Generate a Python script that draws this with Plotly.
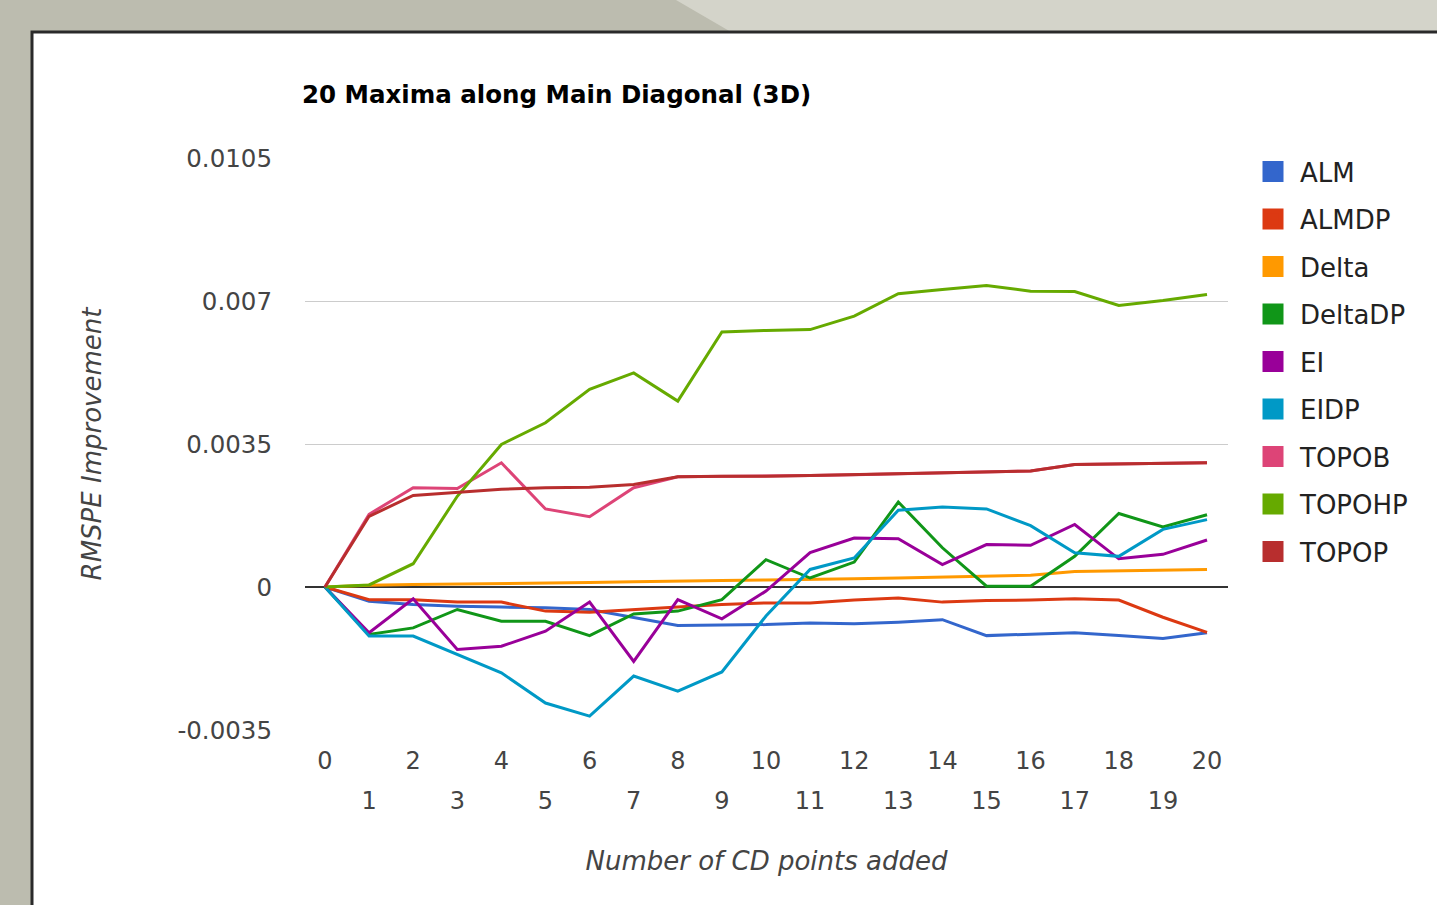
import plotly.graph_objects as go

# data
points = list(range(21))
even_ticks = [0, 2, 4, 6, 8, 10, 12, 14, 16, 18, 20]
odd_ticks = [1, 3, 5, 7, 9, 11, 13, 15, 17, 19]
y_ticks = [-0.0035, 0, 0.0035, 0.007, 0.0105]
y_tick_labels = ["-0.0035", "0", "0.0035", "0.007", "0.0105"]

alm = [0, -0.00035, -0.00043, -0.00047, -0.00049, -0.00051, -0.00055, -0.00075, -0.00094, -0.00093, -0.00092,
       -0.00088, -0.0009, -0.00086, -0.0008, -0.00119, -0.00115, -0.00112, -0.00119, -0.00126, -0.00112]
almdp = [0, -0.00031, -0.00031, -0.00037, -0.00037, -0.00059, -0.00062, -0.00055, -0.00049, -0.00043, -0.00039,
         -0.00039, -0.00032, -0.00027, -0.00037, -0.00033, -0.00032, -0.00029, -0.00032, -0.00074, -0.00111]
delta = [0, 0.00004, 0.00006, 0.00007, 0.00009, 0.0001, 0.00011, 0.00013, 0.00015, 0.00016, 0.00017,
         0.00018, 0.0002, 0.00022, 0.00024, 0.00026, 0.00029, 0.00038, 0.0004, 0.00041, 0.00043]
deltadp = [0, -0.00116, -0.001, -0.00055, -0.00084, -0.00084, -0.00119, -0.00066, -0.00059, -0.00031, 0.00067,
           0.00022, 0.00061, 0.00208, 0.00096, 0.00002, 0.00002, 0.00075, 0.0018, 0.00147, 0.00177]
ei = [0, -0.00112, -0.00029, -0.00153, -0.00145, -0.00108, -0.00037, -0.00182, -0.00031, -0.00078, -0.0001,
      0.00084, 0.0012, 0.00118, 0.00055, 0.00104, 0.00102, 0.00153, 0.00069, 0.0008, 0.00115]
eidp = [0, -0.0012, -0.0012, -0.00165, -0.0021, -0.00284, -0.00316, -0.00218, -0.00255, -0.00208, -0.00071,
        0.00043, 0.00071, 0.00188, 0.00196, 0.00191, 0.0015, 0.00084, 0.00075, 0.00141, 0.00165]
topob = [0, 0.00178, 0.00243, 0.00241, 0.00304, 0.00191, 0.00172, 0.00243, 0.0027, 0.00271, 0.00271,
         0.00273, 0.00275, 0.00277, 0.00279, 0.00282, 0.00284, 0.003, 0.00301, 0.00302, 0.00304]
topohp = [0, 0.00005, 0.00057, 0.00222, 0.00349, 0.00402, 0.00484, 0.00524, 0.00455, 0.00624, 0.00628,
          0.0063, 0.00663, 0.00718, 0.00728, 0.00738, 0.00724, 0.00723, 0.00689, 0.00701, 0.00716]
topop = [0, 0.00173, 0.00224, 0.00232, 0.00239, 0.00243, 0.00244, 0.00251, 0.0027, 0.00271, 0.00271,
         0.00273, 0.00275, 0.00277, 0.00279, 0.00282, 0.00284, 0.003, 0.00301, 0.00302, 0.00304]

series_names = ["ALM", "ALMDP", "Delta", "DeltaDP", "EI", "EIDP", "TOPOB", "TOPOHP", "TOPOP"]
series_values = [alm, almdp, delta, deltadp, ei, eidp, topob, topohp, topop]
series_colors = ["#3366cc", "#dc3912", "#ff9900", "#109618", "#990099",
                 "#0099c6", "#dd4477", "#66aa00", "#b82e2e"]

FONT = "DejaVu Sans"
W, H = 1437, 905
L, R, T, B = 305, 1228, 158, 730


def px_to_paper(px, py):
    """pixel position in the page -> paper coordinates"""
    return (px - L) / (R - L), (B - py) / (B - T)


fig = go.Figure()
for name, vals, color in zip(series_names, series_values, series_colors):
    fig.add_trace(go.Scatter(x=points, y=vals, mode="lines", name=name,
                             line=dict(color=color, width=3), showlegend=False,
                             legendgroup=name, hoverinfo="x+y+name"))
# square swatches for the legend (on x2 so the odd-tick axis is drawn)
for name, color in zip(series_names, series_colors):
    fig.add_trace(go.Scatter(x=[None], y=[None], mode="markers", name=name, xaxis="x2",
                             marker=dict(symbol="square", size=16, color=color,
                                         line=dict(color=color, width=5)),
                             legendgroup=name))

# page background: grey frame, white panel with dark border
x1, _ = px_to_paper(W, 0)
pa, pb = px_to_paper(32, 32)
pc, pd = px_to_paper(W + 20, H + 20)
la, lb = px_to_paper(676, 0)
lc, ld = px_to_paper(731, 32)
shapes = [
    dict(type="path", xref="paper", yref="paper", layer="below",
         path=f"M{la},{lb} L{x1},{lb} L{x1},{ld} L{lc},{ld} Z",
         fillcolor="#d4d4ca", line=dict(width=0)),
    dict(type="rect", xref="paper", yref="paper", layer="below",
         x0=pa, y0=pb, x1=pc, y1=pd, fillcolor="white",
         line=dict(color="#2a2a2a", width=3)),
]

fig.update_layout(
    width=W, height=H,
    margin=dict(l=L, r=W - R, t=T, b=H - B),
    paper_bgcolor="#bcbcaf",
    plot_bgcolor="rgba(0,0,0,0)",
    shapes=shapes,
    title=dict(text="<b>20 Maxima along Main Diagonal (3D)</b>", x=302 / W, xref="container",
               xanchor="left", y=1 - 94 / H, yref="container", yanchor="middle",
               font=dict(family=FONT, size=24.5, color="#000000")),
    xaxis=dict(range=[-0.453, 20.476], tickvals=even_ticks, ticktext=[str(v) for v in even_ticks],
               showgrid=False, zeroline=False, showline=False, ticks="",
               tickfont=dict(family=FONT, size=24, color="#444444"), ticklabelstandoff=14,
               title=dict(text="<i>Number of CD points added</i>", standoff=77,
                          font=dict(family=FONT, size=26, color="#444444"))),
    xaxis2=dict(range=[-0.453, 20.476], overlaying="x", anchor="y", side="bottom",
                tickvals=odd_ticks, ticktext=[str(v) for v in odd_ticks],
                showgrid=False, zeroline=False, showline=False, ticks="",
                tickfont=dict(family=FONT, size=24, color="#444444"), ticklabelstandoff=54),
    yaxis=dict(range=[-0.0035, 0.0105], tickvals=y_ticks, ticktext=y_tick_labels,
               showgrid=True, gridcolor="#cccccc", gridwidth=1,
               zeroline=True, zerolinecolor="#333333", zerolinewidth=1.5,
               showline=False, ticks="", ticklabelstandoff=32,
               tickfont=dict(family=FONT, size=24.5, color="#444444"),
               title=dict(text="<i>RMSPE Improvement</i>", standoff=68,
                          font=dict(family=FONT, size=26, color="#444444"))),
    legend=dict(x=px_to_paper(1246, 0)[0], xanchor="left", y=px_to_paper(0, 148)[1], yanchor="top",
                font=dict(family=FONT, size=26, color="#222222"), bgcolor="rgba(0,0,0,0)",
                tracegroupgap=10.7, itemwidth=44, itemclick=False),
    showlegend=True,
)

fig.write_html("out.html", config={"displayModeBar": False},
               post_script="document.body.style.margin = '0';")
